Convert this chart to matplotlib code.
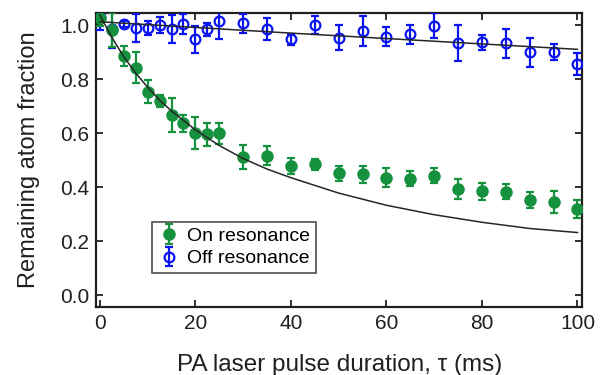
import matplotlib.pyplot as plt

plt.rcParams['font.family'] = ['Liberation Sans', 'DejaVu Sans']

# pulse durations (ms)
t_on = [0, 2.5, 5, 7.5, 10, 12.5, 15, 17.5, 20, 22.5, 25, 30, 35, 40, 45,
        50, 55, 60, 65, 70, 75, 80, 85, 90, 95, 100]
frac_on = [1.027, 0.981, 0.886, 0.842, 0.753, 0.719, 0.667, 0.636, 0.601, 0.595,
           0.599, 0.512, 0.516, 0.478, 0.484, 0.451, 0.448, 0.435, 0.432, 0.442,
           0.393, 0.385, 0.383, 0.352, 0.346, 0.319]
err_on = [0.03, 0.063, 0.036, 0.058, 0.043, 0.021, 0.064, 0.031, 0.06, 0.042,
          0.038, 0.045, 0.035, 0.03, 0.022, 0.028, 0.031, 0.036, 0.028, 0.028,
          0.038, 0.032, 0.028, 0.03, 0.04, 0.032]

t_off = [0, 2.5, 5, 7.5, 10, 12.5, 15, 17.5, 20, 22.5, 25, 30, 35, 40, 45,
         50, 55, 60, 65, 70, 75, 80, 85, 90, 95, 100]
frac_off = [1.03, 0.985, 1.004, 0.99, 0.988, 1.0, 0.985, 1.003, 0.947, 0.984,
            1.015, 1.006, 0.985, 0.947, 1.0, 0.953, 0.978, 0.957, 0.965, 0.997,
            0.932, 0.936, 0.932, 0.899, 0.899, 0.856]
err_off = [0.05, 0.07, 0.012, 0.052, 0.026, 0.031, 0.053, 0.037, 0.05, 0.023,
           0.065, 0.035, 0.04, 0.021, 0.032, 0.046, 0.054, 0.035, 0.034, 0.046,
           0.067, 0.028, 0.053, 0.053, 0.03, 0.042]

# fit curves
fit_on_t = [0, 2.5, 5, 7.5, 10, 12.5, 15, 20, 25, 30, 35, 40, 50, 60, 70, 80, 90, 100]
fit_on_y = [1.037, 0.954, 0.883, 0.822, 0.77, 0.722, 0.682, 0.612, 0.554, 0.506,
            0.467, 0.435, 0.378, 0.333, 0.298, 0.27, 0.247, 0.232]
fit_off_t = [0, 20, 40, 60, 80, 100]
fit_off_y = [1.012, 0.991, 0.970, 0.950, 0.930, 0.910]

green = '#16913d'
blue = '#0a14f0'
ink = '#231f20'

fig = plt.figure(figsize=[6.04, 3.75], dpi=100)
ax = fig.add_axes([0.159, 0.181, 0.805, 0.784])

off = ax.errorbar(t_off, frac_off, yerr=err_off, fmt='o', color=blue, mfc='none',
                  ms=7, mew=1.6, elinewidth=1.6, capsize=3, capthick=1.6,
                  label='Off resonance', zorder=3)
on = ax.errorbar(t_on, frac_on, yerr=err_on, fmt='o', color=green, ms=8,
                 elinewidth=1.6, capsize=3, capthick=1.6,
                 label='On resonance', zorder=4)
ax.plot(fit_on_t, fit_on_y, color='#262626', lw=1.1, zorder=5)
ax.plot(fit_off_t, fit_off_y, color='#262626', lw=1.1, zorder=5)

ax.set_xlim(-0.8, 101)
ax.set_ylim(-0.044, 1.044)
ax.set_xticks([0, 20, 40, 60, 80, 100])
ax.set_yticks([0.0, 0.2, 0.4, 0.6, 0.8, 1.0])
ax.set_yticklabels(['0.0', '0.2', '0.4', '0.6', '0.8', '1.0'])
ax.tick_params(direction='in', top=True, right=True, length=5, width=1.3,
               labelsize=15, colors=ink, pad=5)
for s in ax.spines.values():
    s.set_linewidth(1.6)
    s.set_color(ink)

ax.set_xlabel('PA laser pulse duration, τ (ms)', fontsize=17.5, color=ink, labelpad=15)
ax.set_ylabel('Remaining atom fraction', fontsize=17, color=ink, labelpad=14)

leg = ax.legend(handles=[on, off], loc='lower left', bbox_to_anchor=(0.115, 0.115),
                fontsize=14, frameon=True, fancybox=False, edgecolor=ink,
                borderpad=0.3, handletextpad=0.3, labelspacing=0.25,
                handlelength=1.2, borderaxespad=0)
leg.get_frame().set_linewidth(1.2)

plt.savefig('out.png', dpi=100)
